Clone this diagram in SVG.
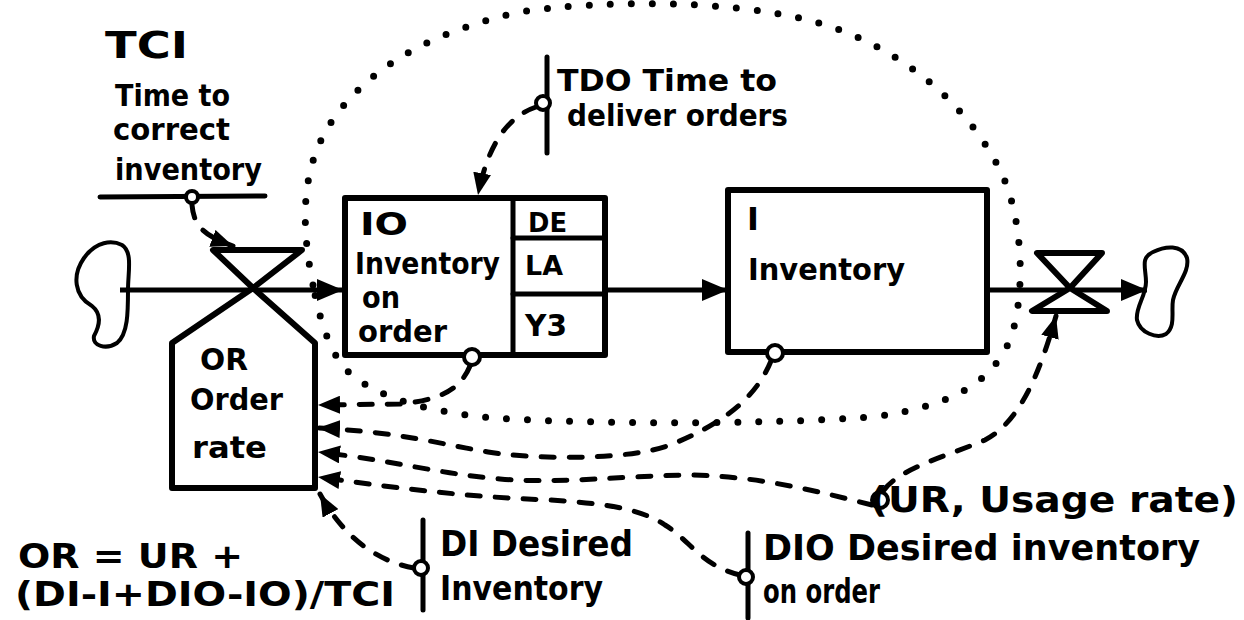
<svg xmlns="http://www.w3.org/2000/svg" width="1244" height="620" viewBox="0 0 1244 620">
<style>
text{font-family:"DejaVu Sans","Liberation Sans",sans-serif;font-weight:bold;fill:#000}
.box{fill:#fff;stroke:#000;stroke-width:6;stroke-linejoin:round}
.thin{fill:none;stroke:#000;stroke-width:4;stroke-linecap:round;stroke-linejoin:round}
.flow{fill:none;stroke:#000;stroke-width:5}
.dash{fill:none;stroke:#000;stroke-width:5;stroke-dasharray:13 15;stroke-linecap:round}
.dot{fill:none;stroke:#000;stroke-width:7;stroke-dasharray:0 21;stroke-linecap:round}
.src{fill:#fff;stroke:#000;stroke-width:4}
.bar{stroke:#000;stroke-width:5;stroke-linecap:round}
</style>
<defs>
<marker id="ah" markerUnits="userSpaceOnUse" markerWidth="26" markerHeight="22" refX="26" refY="11" orient="auto">
<path d="M0,0 L26,11 L0,22 Z" fill="#000" stroke="none"/>
</marker>
<marker id="ahs" markerUnits="userSpaceOnUse" markerWidth="22" markerHeight="18" refX="22" refY="9" orient="auto">
<path d="M0,0 L22,9 L0,18 Z" fill="#000" stroke="none"/>
</marker>
</defs>
<rect width="1244" height="620" fill="#fff"/>

<!-- dotted loop -->
<path class="dot" d="M313,285 C300,220 300,160 340,110 C380,60 440,30 520,12 C600,0 720,0 800,18 C880,36 960,90 1000,170 C1025,220 1025,300 1010,340 C990,385 950,405 880,416 C800,424 600,425 495,418 C420,412 360,392 340,362 C325,340 318,310 313,285 Z"/>

<g id="connectors">
<line class="flow" x1="120" y1="290" x2="343" y2="290" marker-end="url(#ah)"/>
<line class="flow" x1="605" y1="290" x2="728" y2="290" marker-end="url(#ah)"/>
<line class="flow" x1="987" y1="290" x2="1147" y2="290" marker-end="url(#ah)"/>
<path class="dash" d="M192,205 C194,228 206,236 233,246" marker-end="url(#ahs)"/>
<path class="dash" d="M536,107 Q492,122 478,195" marker-end="url(#ahs)"/>
<path class="dash" d="M470,366 C460,390 440,400 400,404 L318,405" marker-end="url(#ahs)"/>
<path class="dash" d="M771,361 C755,400 720,425 670,445 C630,460 540,460 488,452 C440,444 400,432 318,428" marker-end="url(#ahs)"/>
<path class="dash" d="M872,505 C820,492 760,476 690,475 C620,476 560,484 500,479 C440,474 390,460 318,452" marker-end="url(#ahs)"/>
<path class="dash" d="M740,575 C700,565 690,540 665,525 C640,508 600,503 550,500 C470,497 410,490 318,477" marker-end="url(#ahs)"/>
<path class="dash" d="M414,568 C380,562 345,540 320,494" marker-end="url(#ahs)"/>
<path class="dash" d="M884,490 C900,468 950,455 985,440 C1020,422 1040,372 1056,316" marker-end="url(#ahs)"/>
</g>

<g id="cloud-left">
<path class="thin" d="M122,245 C112,240 96,241 84,258 C72,275 74,296 92,306 C102,314 100,325 94,336 C92,346 106,350 117,343 C128,334 128,312 128,290 C128,272 133,252 122,245 Z"/>
</g>
<g id="cloud-right">
<path class="thin" d="M1153,252 C1165,246 1182,244 1187,258 C1190,272 1176,285 1173,300 C1171,312 1176,326 1166,334 C1157,339 1140,333 1137,320 C1135,308 1146,296 1146,282 C1146,268 1140,258 1153,252 Z"/>
</g>

<g id="OR">
<path class="box" d="M172,488 L172,343 L253,288 L315,343 L315,488 Z"/>
<path class="box" d="M213,250 L302,250 L253,288 Z"/>
<text x="200" y="370" font-size="30" textLength="48" lengthAdjust="spacingAndGlyphs">OR</text>
<text x="190" y="410" font-size="30" textLength="93" lengthAdjust="spacingAndGlyphs">Order</text>
<text x="192" y="458" font-size="30" textLength="75" lengthAdjust="spacingAndGlyphs">rate</text>
</g>

<g id="valve-out">
<path class="box" d="M1037,253 L1102,253 L1070,288 Z"/>
<path class="box" d="M1070,288 L1032,311 L1107,311 Z"/>
</g>

<g id="IO">
<rect class="box" x="345" y="198" width="260" height="157"/>
<line class="bar" x1="513" y1="198" x2="513" y2="355"/>
<line class="bar" x1="513" y1="238" x2="603" y2="238"/>
<line class="bar" x1="513" y1="294" x2="603" y2="294"/>
<text x="360" y="235" font-size="32" textLength="48" lengthAdjust="spacingAndGlyphs">IO</text>
<text x="355" y="274" font-size="30" textLength="145" lengthAdjust="spacingAndGlyphs">Inventory</text>
<text x="362" y="308" font-size="30" textLength="38" lengthAdjust="spacingAndGlyphs">on</text>
<text x="358" y="342" font-size="30" textLength="89" lengthAdjust="spacingAndGlyphs">order</text>
<text x="528" y="232" font-size="26" textLength="39" lengthAdjust="spacingAndGlyphs">DE</text>
<text x="525" y="275" font-size="26" textLength="38" lengthAdjust="spacingAndGlyphs">LA</text>
<text x="525" y="336" font-size="30" textLength="42" lengthAdjust="spacingAndGlyphs">Y3</text>
<circle class="src" cx="472" cy="357" r="8"/>
</g>

<g id="I">
<rect class="box" x="728" y="190" width="259" height="162"/>
<text x="747" y="230" font-size="32">I</text>
<text x="748" y="280" font-size="30" textLength="157" lengthAdjust="spacingAndGlyphs">Inventory</text>
<circle class="src" cx="775" cy="353" r="8"/>
</g>

<g id="TCI">
<text x="105" y="58" font-size="38" textLength="83" lengthAdjust="spacingAndGlyphs">TCI</text>
<text x="115" y="106" font-size="30" textLength="115" lengthAdjust="spacingAndGlyphs">Time to</text>
<text x="113" y="140" font-size="30" textLength="117" lengthAdjust="spacingAndGlyphs">correct</text>
<text x="115" y="180" font-size="30" textLength="147" lengthAdjust="spacingAndGlyphs">inventory</text>
<line class="bar" x1="100" y1="197" x2="265" y2="196"/>
<circle class="src" cx="192" cy="197" r="6"/>
</g>

<g id="TDO">
<line class="bar" x1="547" y1="57" x2="547" y2="153"/>
<circle class="src" cx="543" cy="103" r="7"/>
<text x="557" y="91" font-size="30" textLength="220" lengthAdjust="spacingAndGlyphs">TDO Time to</text>
<text x="567" y="126" font-size="30" textLength="221" lengthAdjust="spacingAndGlyphs">deliver orders</text>
</g>

<g id="DI">
<line class="bar" x1="423" y1="520" x2="423" y2="610"/>
<circle class="src" cx="421" cy="568" r="7"/>
<text x="440" y="556" font-size="36" textLength="193" lengthAdjust="spacingAndGlyphs">DI Desired</text>
<text x="440" y="600" font-size="34" textLength="163" lengthAdjust="spacingAndGlyphs">Inventory</text>
</g>

<g id="DIO">
<line class="bar" x1="748" y1="533" x2="748" y2="618"/>
<circle class="src" cx="746" cy="577" r="7"/>
<text x="763" y="560" font-size="36" textLength="437" lengthAdjust="spacingAndGlyphs">DIO Desired inventory</text>
<text x="763" y="603" font-size="34" textLength="117" lengthAdjust="spacingAndGlyphs">on order</text>
</g>

<g id="UR">
<circle class="src" cx="880" cy="500" r="8"/>
<text x="870" y="512" font-size="36" textLength="368" lengthAdjust="spacingAndGlyphs">(UR, Usage rate)</text>
</g>

<g id="formula">
<text x="18" y="568" font-size="34" textLength="225" lengthAdjust="spacingAndGlyphs">OR = UR +</text>
<text x="15" y="606" font-size="34" textLength="380" lengthAdjust="spacingAndGlyphs">(DI-I+DIO-IO)/TCI</text>
</g>
</svg>
